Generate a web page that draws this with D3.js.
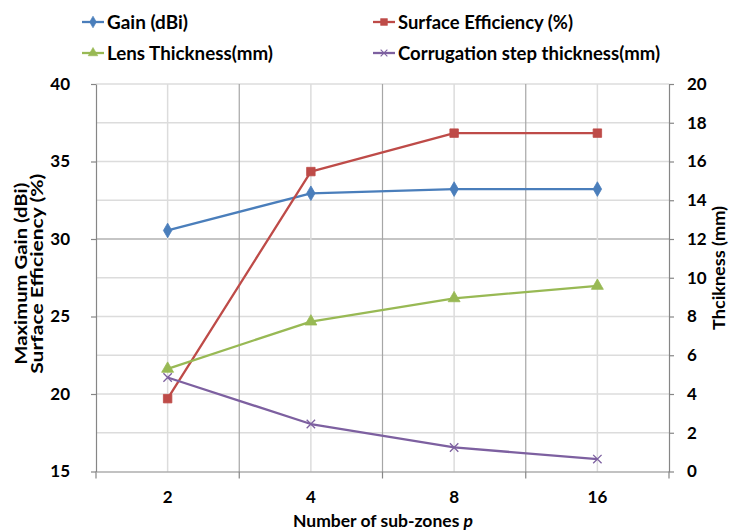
<!DOCTYPE html>
<html>
<head>
<meta charset="utf-8">
<script src="https://cdn.jsdelivr.net/npm/d3@7"></script>
<style>
  html, body { margin: 0; padding: 0; background: #fff; }
  svg { display: block; }
  text { font-family: Lato, "Open Sans", "DejaVu Sans", sans-serif; font-weight: bold; fill: #000; }
</style>
</head>
<body>
<svg id="chart" width="732" height="531"></svg>
<script>
// ---- data ----
const categories = ["2", "4", "8", "16"];
const gain = [30.55, 32.95, 33.22, 33.22];              // left axis (dBi)
const surfaceEff = [19.7, 34.35, 36.83, 36.83];         // left axis (%)
const lensThickness = [5.3, 7.74, 8.94, 9.58];          // right axis (mm)
const corrugationStep = [4.85, 2.45, 1.24, 0.64];       // right axis (mm)
const leftTicks = [15, 20, 25, 30, 35, 40];
const rightTicks = [0, 2, 4, 6, 8, 10, 12, 14, 16, 18, 20];
const seriesNames = ["Gain (dBi)", "Surface Efficiency (%)", "Lens Thickness(mm)", "Corrugation step thickness(mm)"];

// ---- layout ----
const svg = d3.select("#chart");
const L = 96, R = 669, T = 84, B = 471.5;

const x = d3.scaleBand().domain(categories).range([L, R]).padding(0);
const yL = d3.scaleLinear().domain([15, 40]).range([B, T]);
const yR = d3.scaleLinear().domain([0, 20]).range([B, T]);
const cx = d => x(d) + x.bandwidth() / 2;

// ---- gridlines ----
const grid = svg.append("g");
grid.selectAll("line.hr").data(rightTicks.filter(t => t > 0)).join("line")
  .attr("x1", L).attr("x2", R).attr("y1", d => yR(d)).attr("y2", d => yR(d))
  .attr("stroke", "#dcdcdc").attr("stroke-width", 1.5);
grid.append("line").attr("x1", L).attr("x2", R).attr("y1", yL(30)).attr("y2", yL(30))
  .attr("stroke", "#a6a6a6").attr("stroke-width", 1.2);
grid.selectAll("line.vc").data(categories).join("line")
  .attr("x1", d => cx(d)).attr("x2", d => cx(d)).attr("y1", T).attr("y2", B)
  .attr("stroke", "#dcdcdc").attr("stroke-width", 1.5);
const bounds = categories.map(c => x(c)).concat([R]);
grid.selectAll("line.vb").data(bounds.slice(1, -1)).join("line")
  .attr("x1", d => d).attr("x2", d => d).attr("y1", T).attr("y2", B)
  .attr("stroke", "#a6a6a6").attr("stroke-width", 1.2);

// ---- axes ----
const axisColor = "#868686";
const gL = svg.append("g").attr("transform", `translate(${L},0)`)
  .call(d3.axisLeft(yL).tickValues(leftTicks).tickSizeInner(5).tickSizeOuter(0).tickPadding(21).tickFormat(d3.format("d")));
const gR = svg.append("g").attr("transform", `translate(${R},0)`)
  .call(d3.axisRight(yR).tickValues(rightTicks).tickSizeInner(5).tickSizeOuter(0).tickPadding(13).tickFormat(d3.format("d")));
const gB = svg.append("g").attr("transform", `translate(0,${B})`)
  .call(d3.axisBottom(x).tickSizeInner(0).tickSizeOuter(0).tickPadding(19));
[gL, gR, gB].forEach(g => {
  g.select(".domain").attr("stroke", axisColor).attr("stroke-width", 1.2);
  g.selectAll(".tick line").attr("stroke", axisColor).attr("stroke-width", 1.2);
  g.selectAll(".tick text").attr("font-size", 17).attr("font-weight", "bold")
    .attr("font-family", 'Lato, "Open Sans", sans-serif').attr("fill", "#000");
});
svg.append("g").selectAll("line").data(bounds).join("line")
  .attr("x1", d => d).attr("x2", d => d).attr("y1", B).attr("y2", B + 7)
  .attr("stroke", axisColor).attr("stroke-width", 1.2);

// ---- axis titles ----
const leftTitle = svg.append("text").attr("transform", `translate(0,${(T + B) / 2 - 4}) rotate(-90)`)
  .attr("text-anchor", "middle").attr("font-size", 17.5);
leftTitle.append("tspan").attr("x", 0).attr("y", 26.5).attr("textLength", 182)
  .attr("lengthAdjust", "spacingAndGlyphs").text("Maximum Gain (dBi)");
leftTitle.append("tspan").attr("x", 0).attr("y", 42.5).attr("textLength", 200)
  .attr("lengthAdjust", "spacingAndGlyphs").text("Surface Efficiency (%)");

svg.append("text").attr("transform", `translate(725,268) rotate(-90)`)
  .attr("text-anchor", "middle").attr("font-size", 17.5)
  .attr("textLength", 124).attr("lengthAdjust", "spacingAndGlyphs").text("Thcikness (mm)");

const xt = svg.append("text").attr("x", 383).attr("y", 526.5).attr("text-anchor", "middle").attr("font-size", 17.5);
xt.append("tspan").text("Number of sub-zones ");
xt.append("tspan").attr("font-style", "italic").text("p");

// ---- series ----
const colors = ["#4a7ebb", "#be4b48", "#98b954", "#7d60a0"];
const series = [
  { name: seriesNames[0], vals: gain, y: yL, color: colors[0], sym: "diamond" },
  { name: seriesNames[1], vals: surfaceEff, y: yL, color: colors[1], sym: "square" },
  { name: seriesNames[2], vals: lensThickness, y: yR, color: colors[2], sym: "triangle" },
  { name: seriesNames[3], vals: corrugationStep, y: yR, color: colors[3], sym: "times" }
];

function markerPath(sym, scale) {
  const k = scale || 1;
  if (sym === "diamond") return d3.symbol(d3.symbolDiamond, 62 * k * k)();
  if (sym === "square") return d3.symbol(d3.symbolSquare, 72 * k * k)();
  if (sym === "triangle") return d3.symbol(d3.symbolTriangle, 62 * k * k)();
  const s = 4.2 * k;
  return `M${-s},${-s}L${s},${s}M${-s},${s}L${s},${-s}`;
}

const line = d3.line();
series.forEach(s => {
  const pts = categories.map((c, i) => [cx(c), s.y(s.vals[i])]);
  svg.append("path").attr("d", line(pts)).attr("fill", "none")
    .attr("stroke", s.color).attr("stroke-width", 2.3).attr("stroke-linejoin", "round");
  svg.append("g").selectAll("path").data(pts).join("path")
    .attr("transform", p => `translate(${p[0]},${p[1]})`)
    .attr("d", markerPath(s.sym))
    .attr("fill", s.sym === "times" ? "none" : s.color)
    .attr("stroke", s.color).attr("stroke-width", s.sym === "times" ? 1.3 : 0.8);
});

// ---- legend ----
const legendPos = [
  { x: 82, y: 22, w: 81 }, { x: 373, y: 22, w: 175 },
  { x: 82, y: 53, w: 166 }, { x: 373, y: 53, w: 262 }
];
series.forEach((s, i) => {
  const p = legendPos[i];
  const g = svg.append("g").attr("transform", `translate(${p.x},${p.y})`);
  g.append("line").attr("x1", 0).attr("x2", 22).attr("y1", 0).attr("y2", 0)
    .attr("stroke", s.color).attr("stroke-width", 2.3);
  g.append("path").attr("transform", "translate(11,0)").attr("d", markerPath(s.sym, 0.8))
    .attr("fill", s.sym === "times" ? "none" : s.color).attr("stroke", s.color)
    .attr("stroke-width", s.sym === "times" ? 1.1 : 0.6);
  g.append("text").attr("x", 25).attr("y", 6.5).attr("font-size", 18)
    .attr("textLength", p.w).attr("lengthAdjust", "spacingAndGlyphs").text(s.name);
});
</script>
</body>
</html>
